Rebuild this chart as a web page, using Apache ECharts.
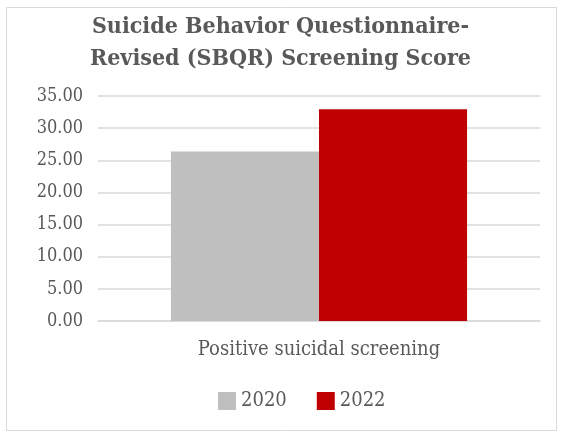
<!DOCTYPE html>
<html><head><meta charset="utf-8">
<script src="https://cdn.jsdelivr.net/npm/echarts@6/dist/echarts.min.js"></script>
<style>html,body{margin:0;padding:0;background:#fff}#c{width:561px;height:435px}</style>
</head><body><div id="c"></div>
<script>
const titleText = 'Suicide Behavior Questionnaire-\nRevised (SBQR) Screening Score';
const categories = ['Positive suicidal screening'];
const seriesNames = ['2020', '2022'];
const values2020 = [26.35];
const values2022 = [32.95];
const colors = ['#bfbfbf', '#c00000'];
const font = '"DejaVu Serif Condensed", "DejaVu Serif", serif';
const chart = echarts.init(document.getElementById('c'), null, {renderer: 'canvas'});
chart.setOption({
  animation: false,
  graphic: [{type: 'rect', shape: {x: 6.5, y: 7.5, width: 550, height: 423}, style: {fill: 'none', stroke: '#d9d9d9', lineWidth: 1}, silent: true}],
  title: {text: titleText, left: 'center', top: 6, textStyle: {fontFamily: font, fontWeight: 'bold', fontSize: 23, color: '#595959', lineHeight: 32}},
  legend: {bottom: 19, left: 213, itemWidth: 18, itemHeight: 18, itemGap: 30, icon: 'rect',
    textStyle: {fontFamily: font, fontSize: 20, color: '#595959'}, data: seriesNames},
  grid: {left: 98, right: 21, top: 96, bottom: 114},
  xAxis: {type: 'category', data: categories, axisTick: {show: false},
    axisLine: {lineStyle: {color: '#d9d9d9', width: 1.5}},
    axisLabel: {fontFamily: font, fontSize: 20, color: '#595959', margin: 19}},
  yAxis: {type: 'value', min: 0, max: 35, interval: 5, axisLine: {show: false}, axisTick: {show: false},
    splitLine: {lineStyle: {color: '#d9d9d9', width: 1.5}},
    axisLabel: {fontFamily: font, fontSize: 18, color: '#595959', margin: 15, formatter: v => v.toFixed(2)}},
  series: [
    {name: seriesNames[0], type: 'bar', data: values2020, itemStyle: {color: colors[0]}, barGap: '0%', barCategoryGap: '33%'},
    {name: seriesNames[1], type: 'bar', data: values2022, itemStyle: {color: colors[1]}, barGap: '0%', barCategoryGap: '33%'}
  ]
});
</script></body></html>
